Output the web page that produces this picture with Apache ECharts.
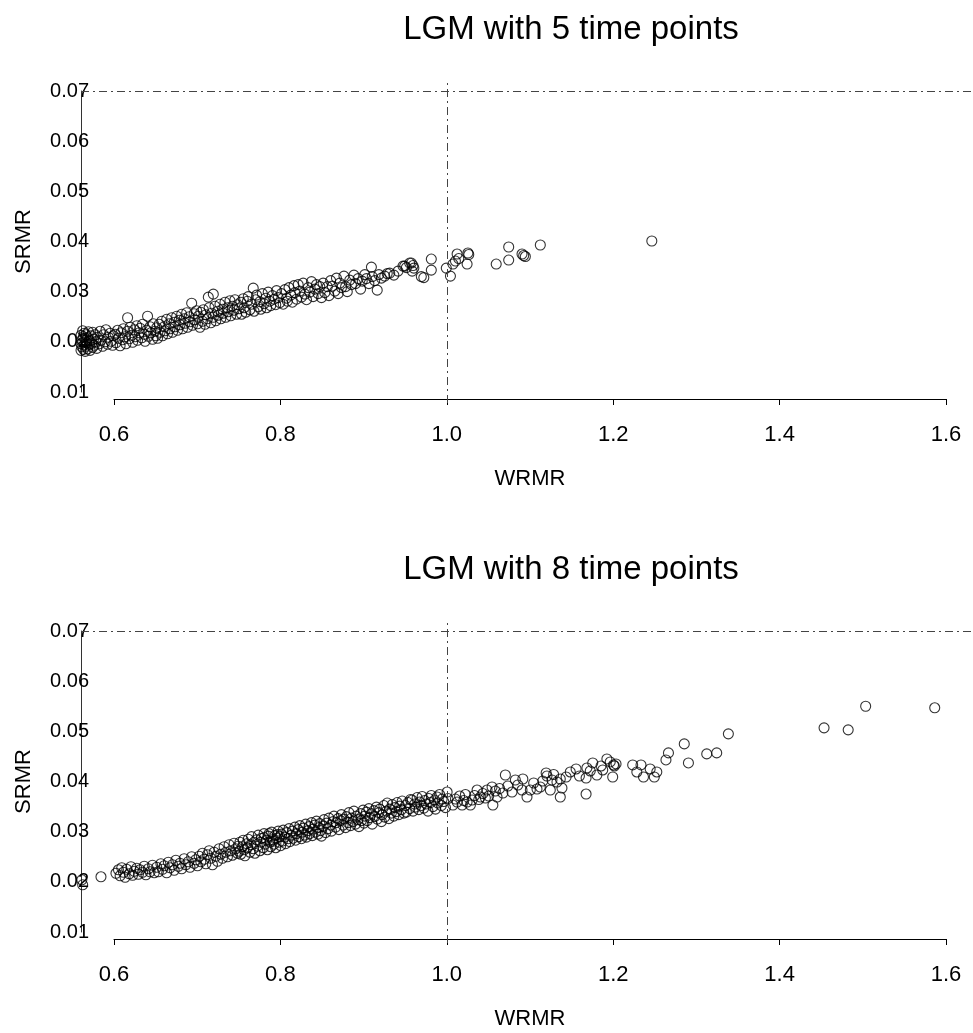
<!DOCTYPE html>
<html lang="en">
<head>
	<meta charset="UTF-8">
	<title>LGM WRMR vs SRMR</title>
	<style type="text/css">
	body{margin:0;padding:0;background:#fff;}
	#main{width:973px;height:1033px;}
	</style>
</head>
<body>
	<div id="main"></div>
	<script src="https://cdn.jsdelivr.net/npm/echarts@6/dist/echarts.min.js"></script>
	<script>
		var titles = ['LGM with 5 time points', 'LGM with 8 time points'];
		var xName = 'WRMR';
		var yName = 'SRMR';
		var xTickMin = 0.6, xTickMax = 1.6, xTickStep = 0.2;
		var yTickMin = 0.01, yTickMax = 0.07, yTickStep = 0.01;
		var refX = 1.0, refY = 0.07;

		// [WRMR, SRMR], 5 time points
		var lgm5 = [
			[0.560,0.0196],[0.560,0.0213],[0.560,0.0183],[0.561,0.0204],[0.561,0.0190],[0.562,0.0222],[0.562,0.0199],[0.563,0.0185],
			[0.563,0.0210],[0.564,0.0194],[0.564,0.0217],[0.565,0.0181],[0.565,0.0202],[0.566,0.0191],[0.566,0.0214],[0.567,0.0198],
			[0.568,0.0186],[0.568,0.0208],[0.569,0.0220],[0.570,0.0195],[0.570,0.0203],[0.571,0.0183],[0.572,0.0212],[0.573,0.0197],
			[0.574,0.0189],[0.574,0.0219],[0.575,0.0205],[0.576,0.0193],[0.577,0.0214],[0.578,0.0200],[0.579,0.0187],[0.580,0.0209],
			[0.582,0.0196],[0.583,0.0221],[0.584,0.0203],[0.586,0.0191],[0.587,0.0214],[0.589,0.0200],[0.590,0.0224],[0.592,0.0195],
			[0.593,0.0209],[0.595,0.0217],[0.596,0.0201],[0.598,0.0193],[0.599,0.0212],
			[0.601,0.0215],[0.602,0.0198],[0.604,0.0223],[0.605,0.0207],[0.607,0.0192],[0.608,0.0218],[0.610,0.0204],[0.611,0.0226],
			[0.613,0.0210],[0.614,0.0196],[0.616,0.0248],[0.616,0.0221],[0.618,0.0206],[0.619,0.0229],[0.621,0.0213],[0.622,0.0199],
			[0.624,0.0224],[0.625,0.0210],[0.627,0.0232],[0.628,0.0203],[0.630,0.0218],[0.631,0.0227],[0.633,0.0208],[0.634,0.0235],
			[0.636,0.0215],[0.637,0.0201],[0.639,0.0223],[0.640,0.0251],[0.641,0.0211],[0.643,0.0230],[0.644,0.0218],[0.646,0.0205],
			[0.647,0.0236],[0.649,0.0221],[0.650,0.0212],
			[0.651,0.0228],[0.652,0.0207],[0.654,0.0235],[0.655,0.0219],[0.657,0.0241],[0.658,0.0212],[0.660,0.0230],[0.661,0.0222],
			[0.663,0.0245],[0.664,0.0216],[0.666,0.0236],[0.667,0.0226],[0.669,0.0248],[0.670,0.0219],[0.672,0.0239],[0.673,0.0230],
			[0.675,0.0251],[0.676,0.0223],[0.678,0.0243],[0.679,0.0234],[0.681,0.0255],[0.682,0.0226],[0.684,0.0246],[0.685,0.0237],
			[0.687,0.0258],[0.688,0.0229],[0.690,0.0250],[0.691,0.0240],[0.693,0.0277],[0.694,0.0233],[0.696,0.0256],[0.697,0.0244],
			[0.699,0.0262],[0.700,0.0236],
			[0.701,0.0251],[0.703,0.0229],[0.704,0.0259],[0.706,0.0241],[0.707,0.0264],[0.709,0.0235],[0.710,0.0254],[0.712,0.0246],
			[0.713,0.0289],[0.714,0.0268],[0.716,0.0238],[0.717,0.0257],[0.719,0.0295],[0.719,0.0249],[0.721,0.0271],[0.722,0.0242],
			[0.724,0.0261],[0.725,0.0253],[0.727,0.0275],[0.728,0.0246],[0.730,0.0265],[0.731,0.0257],[0.733,0.0279],[0.734,0.0249],
			[0.736,0.0268],[0.737,0.0260],[0.739,0.0282],[0.740,0.0252],[0.742,0.0271],[0.744,0.0263],[0.745,0.0284],[0.747,0.0255],
			[0.748,0.0274],[0.750,0.0266],
			[0.752,0.0279],[0.753,0.0255],[0.755,0.0286],[0.756,0.0268],[0.758,0.0259],[0.760,0.0281],[0.761,0.0290],[0.763,0.0264],
			[0.765,0.0275],[0.767,0.0307],[0.768,0.0261],[0.770,0.0284],[0.771,0.0293],[0.773,0.0270],[0.775,0.0280],[0.776,0.0265],
			[0.778,0.0296],[0.780,0.0276],[0.782,0.0287],[0.783,0.0268],[0.785,0.0299],[0.787,0.0281],[0.788,0.0272],[0.790,0.0292],
			[0.792,0.0285],[0.794,0.0274],[0.795,0.0302],[0.797,0.0288],[0.799,0.0278],
			[0.801,0.0296],[0.803,0.0275],[0.805,0.0304],[0.807,0.0287],[0.808,0.0281],[0.810,0.0308],[0.812,0.0293],[0.814,0.0279],
			[0.816,0.0312],[0.817,0.0298],[0.819,0.0285],[0.821,0.0314],[0.823,0.0301],[0.825,0.0289],[0.827,0.0317],[0.829,0.0295],
			[0.831,0.0284],[0.833,0.0308],[0.835,0.0299],[0.837,0.0320],[0.839,0.0290],[0.841,0.0305],[0.843,0.0314],[0.845,0.0296],
			[0.847,0.0310],[0.849,0.0288],
			[0.851,0.0317],[0.853,0.0298],[0.856,0.0310],[0.858,0.0292],[0.860,0.0322],[0.862,0.0311],[0.865,0.0301],[0.867,0.0327],
			[0.869,0.0296],[0.871,0.0317],[0.873,0.0308],[0.876,0.0331],[0.878,0.0310],[0.880,0.0300],[0.883,0.0323],[0.885,0.0314],
			[0.888,0.0333],[0.890,0.0316],[0.893,0.0326],[0.896,0.0305],[0.898,0.0321],[0.901,0.0334],[0.903,0.0326],[0.906,0.0316],
			[0.909,0.0349],[0.910,0.0330],[0.913,0.0322],[0.916,0.0303],[0.918,0.0334],[0.921,0.0327],[0.925,0.0331],[0.928,0.0336],
			[0.931,0.0337],[0.936,0.0333],[0.941,0.0341],[0.947,0.0351],
			[0.949,0.0351],[0.951,0.0348],[0.955,0.0357],[0.957,0.0357],[0.959,0.0352],[0.960,0.0347],[0.958,0.0341],[0.969,0.0330],
			[0.972,0.0328],[0.981,0.0365],[0.981,0.0343],[0.999,0.0347],[1.004,0.0331],[1.007,0.0355],[1.010,0.0361],[1.012,0.0375],
			[1.014,0.0366],[1.025,0.0377],[1.026,0.0374],[1.024,0.0355],[1.059,0.0355],[1.074,0.0363],[1.074,0.0389],[1.090,0.0375],
			[1.092,0.0372],[1.094,0.0370],[1.112,0.0393],[1.246,0.0401]
		];

		// [WRMR, SRMR], 8 time points
		var lgm8 = [
			[0.561,0.0204],[0.562,0.0194],[0.584,0.0210],
			[0.602,0.0217],[0.605,0.0224],[0.607,0.0212],[0.609,0.0228],[0.611,0.0219],[0.613,0.0209],[0.615,0.0225],[0.618,0.0216],
			[0.620,0.0230],[0.622,0.0213],[0.624,0.0221],[0.627,0.0227],[0.629,0.0215],[0.631,0.0224],[0.634,0.0219],[0.636,0.0231],
			[0.638,0.0214],[0.641,0.0226],[0.643,0.0220],[0.646,0.0233],[0.648,0.0218],
			[0.651,0.0229],[0.653,0.0220],[0.656,0.0236],[0.658,0.0225],[0.660,0.0232],[0.663,0.0218],[0.665,0.0239],[0.667,0.0228],
			[0.670,0.0234],[0.672,0.0223],[0.674,0.0243],[0.677,0.0231],[0.679,0.0237],[0.681,0.0226],[0.684,0.0246],[0.686,0.0234],
			[0.689,0.0240],[0.691,0.0229],[0.693,0.0250],[0.696,0.0237],[0.698,0.0244],
			[0.700,0.0232],[0.702,0.0251],[0.704,0.0240],[0.706,0.0257],[0.708,0.0245],[0.710,0.0236],[0.712,0.0254],[0.714,0.0262],
			[0.716,0.0247],[0.718,0.0234],[0.720,0.0259],[0.722,0.0251],[0.724,0.0241],[0.726,0.0266],[0.728,0.0255],[0.730,0.0247],
			[0.732,0.0270],[0.734,0.0259],[0.736,0.0250],[0.738,0.0274],[0.740,0.0262],[0.742,0.0253],[0.744,0.0277],[0.746,0.0266],
			[0.748,0.0257],[0.749,0.0271],
			[0.750,0.0261],[0.751,0.0279],[0.752,0.0255],[0.754,0.0270],[0.755,0.0283],[0.756,0.0264],[0.757,0.0252],[0.759,0.0276],
			[0.760,0.0268],[0.761,0.0285],[0.763,0.0259],[0.764,0.0274],[0.765,0.0290],[0.767,0.0266],[0.768,0.0279],[0.769,0.0257],
			[0.771,0.0284],[0.772,0.0271],[0.773,0.0293],[0.775,0.0262],[0.776,0.0279],[0.777,0.0287],[0.779,0.0268],[0.780,0.0296],
			[0.781,0.0275],[0.783,0.0283],[0.784,0.0264],[0.785,0.0291],[0.787,0.0279],[0.788,0.0270],[0.789,0.0299],[0.790,0.0284],
			[0.792,0.0275],[0.793,0.0292],[0.794,0.0268],[0.795,0.0287],[0.797,0.0301],[0.798,0.0279],[0.799,0.0290],[0.800,0.0272],
			[0.780,0.0288],[0.786,0.0296],[0.791,0.0281],[0.796,0.0294],
			[0.801,0.0295],[0.802,0.0281],[0.803,0.0303],[0.805,0.0289],[0.806,0.0276],[0.807,0.0298],[0.809,0.0286],[0.810,0.0306],
			[0.811,0.0280],[0.813,0.0293],[0.814,0.0301],[0.815,0.0287],[0.817,0.0309],[0.818,0.0283],[0.819,0.0296],[0.821,0.0304],
			[0.822,0.0290],[0.823,0.0312],[0.825,0.0286],[0.826,0.0299],[0.827,0.0307],[0.829,0.0293],[0.830,0.0315],[0.831,0.0289],
			[0.833,0.0302],[0.834,0.0310],[0.835,0.0296],[0.837,0.0318],[0.838,0.0292],[0.839,0.0305],[0.841,0.0313],[0.842,0.0299],
			[0.843,0.0321],[0.845,0.0295],[0.846,0.0308],[0.847,0.0316],[0.848,0.0302],[0.849,0.0291],
			[0.851,0.0311],[0.852,0.0324],[0.854,0.0298],[0.855,0.0317],[0.857,0.0306],[0.858,0.0327],[0.860,0.0313],[0.861,0.0301],
			[0.863,0.0320],[0.864,0.0331],[0.866,0.0309],[0.867,0.0318],[0.869,0.0326],[0.870,0.0304],[0.872,0.0322],[0.873,0.0334],
			[0.875,0.0313],[0.876,0.0325],[0.878,0.0308],[0.879,0.0330],[0.881,0.0318],[0.882,0.0338],[0.884,0.0312],[0.885,0.0327],
			[0.887,0.0320],[0.888,0.0341],[0.890,0.0315],[0.891,0.0331],[0.893,0.0324],[0.894,0.0310],[0.896,0.0336],[0.897,0.0322],
			[0.899,0.0343],[0.900,0.0317],
			[0.901,0.0331],[0.903,0.0339],[0.904,0.0322],[0.906,0.0346],[0.907,0.0328],[0.909,0.0336],[0.910,0.0315],[0.912,0.0342],
			[0.913,0.0330],[0.915,0.0349],[0.916,0.0325],[0.918,0.0338],[0.919,0.0345],[0.921,0.0320],[0.922,0.0334],[0.924,0.0352],
			[0.925,0.0329],[0.927,0.0341],[0.928,0.0357],[0.930,0.0326],[0.931,0.0345],[0.933,0.0337],[0.934,0.0354],[0.936,0.0331],
			[0.937,0.0348],[0.939,0.0340],[0.940,0.0358],[0.942,0.0334],[0.943,0.0351],[0.945,0.0344],[0.946,0.0361],[0.948,0.0337],
			[0.950,0.0352],[0.951,0.0339],[0.953,0.0358],[0.955,0.0346],[0.956,0.0364],[0.958,0.0363],[0.959,0.0341],[0.961,0.0355],
			[0.962,0.0349],[0.964,0.0368],[0.966,0.0344],[0.967,0.0359],[0.969,0.0352],[0.970,0.0370],[0.972,0.0347],[0.973,0.0362],
			[0.975,0.0355],[0.977,0.0341],[0.978,0.0366],[0.980,0.0358],[0.981,0.0372],[0.983,0.0350],[0.985,0.0363],[0.986,0.0345],
			[0.988,0.0369],[0.989,0.0357],[0.991,0.0374],[0.993,0.0352],[0.994,0.0365],[0.996,0.0360],[0.998,0.0348],[1.000,0.0379],
			[1.001,0.0366],
			[1.007,0.0353],[1.010,0.0365],[1.012,0.0359],[1.015,0.0371],[1.018,0.0353],[1.020,0.0362],[1.022,0.0374],[1.024,0.0359],
			[1.028,0.0353],[1.030,0.0363],[1.033,0.0372],[1.036,0.0383],[1.038,0.0364],[1.040,0.0369],[1.043,0.0376],[1.046,0.0367],
			[1.048,0.0383],[1.050,0.0371],[1.054,0.0389],[1.055,0.0353],[1.058,0.0381],[1.060,0.0369],[1.063,0.0386],[1.067,0.0377],
			[1.070,0.0413],[1.073,0.0391],[1.078,0.0379],[1.082,0.0403],[1.085,0.0393],[1.090,0.0383],[1.091,0.0405],[1.096,0.0369],
			[1.100,0.0383],[1.104,0.0397],[1.108,0.0385],[1.112,0.0389],[1.115,0.0401],[1.119,0.0417],[1.120,0.0411],[1.124,0.0383],
			[1.126,0.0403],[1.128,0.0414],[1.132,0.0399],[1.136,0.0405],[1.136,0.0369],[1.138,0.0387],[1.143,0.0409],[1.148,0.0419],
			[1.155,0.0425],[1.159,0.0411],[1.167,0.0407],[1.167,0.0375],[1.168,0.0427],[1.172,0.0421],[1.175,0.0437],[1.180,0.0413],
			[1.185,0.0431],[1.187,0.0423],[1.192,0.0445],[1.196,0.0439],[1.199,0.0409],[1.200,0.0433],[1.201,0.0431],[1.203,0.0435],
			[1.223,0.0433],[1.228,0.0419],[1.233,0.0433],[1.236,0.0409],[1.244,0.0425],[1.249,0.0409],[1.252,0.0419],
			[1.263,0.0443],[1.266,0.0457],[1.285,0.0475],[1.290,0.0437],[1.312,0.0455],[1.324,0.0457],[1.338,0.0495],[1.453,0.0507],
			[1.482,0.0503],[1.503,0.0550],[1.586,0.0547]
		];

		var font = "'Liberation Sans', Arial, Helvetica, sans-serif";
		var myChart = echarts.init(document.getElementById('main'));

		var option = {
			animation: false,
			backgroundColor: '#fff',
			title: [],
			grid: [],
			xAxis: [],
			yAxis: [],
			series: []
		};

		function addPanel(title, points, dy) {
			var g = option.grid.length;
			option.title.push({
				text: title,
				left: 566,
				top: 8 + dy,
				textAlign: 'center',
				textStyle: {fontFamily: font, fontSize: 33, fontWeight: 'normal', color: '#000'}
			});
			// plotting region
			option.grid.push({left: 81, top: 80 + dy, width: 892, height: 323});
			// x axis drawn only from first to last tick
			option.grid.push({left: 114, top: 390 + dy, width: 832, height: 9});
			// y axis drawn only from first to last tick
			option.grid.push({left: 81, top: 91 + dy, width: 10, height: 301});

			option.xAxis.push({gridIndex: g, type: 'value', min: 0.56, max: 1.632, show: false});
			option.yAxis.push({gridIndex: g, type: 'value', min: 0.0078, max: 0.0722, show: false});

			option.xAxis.push({
				gridIndex: g + 1, type: 'value', min: xTickMin, max: xTickMax, interval: xTickStep,
				axisLine: {show: true, lineStyle: {color: '#000', width: 1}},
				axisTick: {show: true, length: 6, lineStyle: {color: '#000'}},
				axisLabel: {margin: 25, fontFamily: font, fontSize: 22, color: '#000',
					formatter: function (v) { return v.toFixed(1); }},
				splitLine: {show: false},
				name: xName, nameLocation: 'middle', nameGap: 69,
				nameTextStyle: {fontFamily: font, fontSize: 22, color: '#000'}
			});
			option.yAxis.push({gridIndex: g + 1, type: 'value', show: false});

			option.xAxis.push({gridIndex: g + 2, type: 'value', min: 0, max: 1, show: false});
			option.yAxis.push({
				gridIndex: g + 2, type: 'value', min: yTickMin, max: yTickMax, interval: yTickStep,
				axisLine: {show: true, lineStyle: {color: '#333', width: 1}},
				axisTick: {show: false},
				axisLabel: {margin: -8, fontFamily: font, fontSize: 20, color: '#000',
					formatter: function (v) { return v.toFixed(2); }},
				splitLine: {show: false},
				name: yName, nameLocation: 'middle', nameGap: 46, nameRotate: 90,
				nameTextStyle: {fontFamily: font, fontSize: 22, color: '#000'}
			});

			option.series.push({
				type: 'scatter',
				xAxisIndex: g,
				yAxisIndex: g,
				data: points,
				symbol: 'circle',
				symbolSize: 10,
				itemStyle: {color: 'rgba(0,0,0,0)', borderColor: '#000', borderWidth: 1.1},
				emphasis: {disabled: true},
				markLine: {
					silent: true,
					symbol: 'none',
					label: {show: false},
					lineStyle: {color: '#444', width: 1, type: [8, 4, 2, 4]},
					data: [{yAxis: refY}, {xAxis: refX}]
				}
			});
		}

		addPanel(titles[0], lgm5, 0);
		addPanel(titles[1], lgm8, 540);
		myChart.setOption(option);
	</script>
</body>
</html>
